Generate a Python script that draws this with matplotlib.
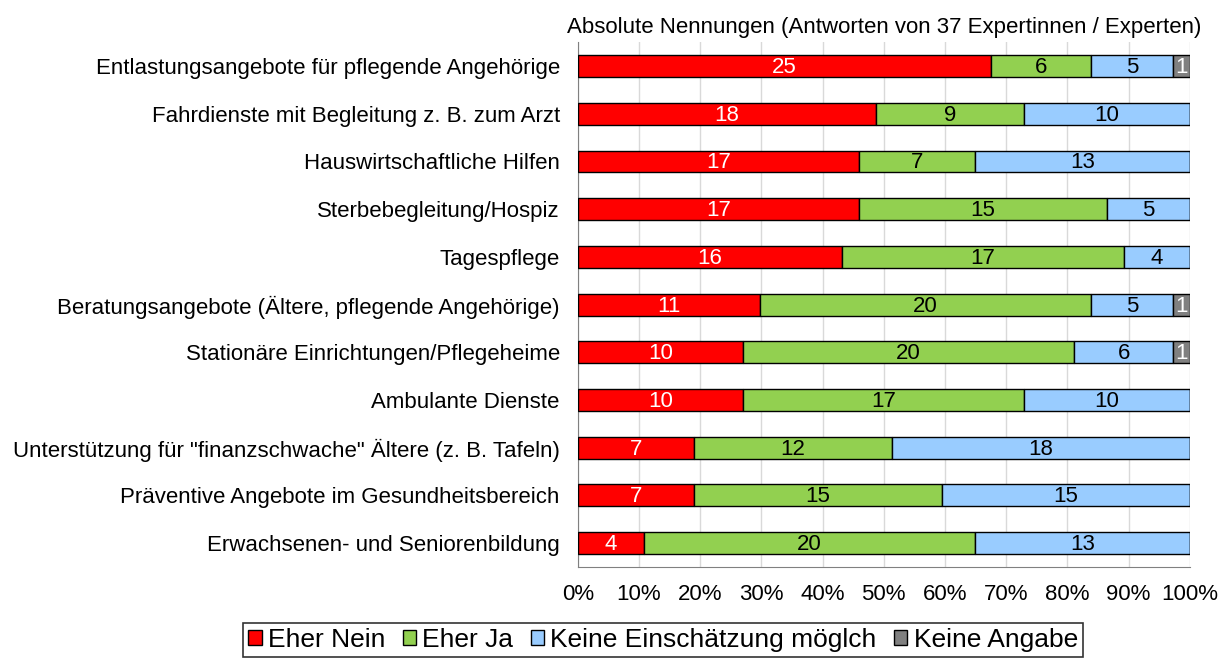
import numpy as np
import matplotlib.pyplot as plt
from matplotlib.patches import Patch

plt.rcParams['font.family'] = ['Liberation Sans', 'DejaVu Sans']

# Daten (absolute Nennungen, 37 Antworten je Angebot)
angebote = [
    "Entlastungsangebote für pflegende Angehörige",
    "Fahrdienste mit Begleitung z. B. zum Arzt",
    "Hauswirtschaftliche Hilfen",
    "Sterbebegleitung/Hospiz",
    "Tagespflege",
    "Beratungsangebote (Ältere, pflegende Angehörige)",
    "Stationäre Einrichtungen/Pflegeheime",
    "Ambulante Dienste",
    "Unterstützung für \"finanzschwache\" Ältere (z. B. Tafeln)",
    "Präventive Angebote im Gesundheitsbereich",
    "Erwachsenen- und Seniorenbildung",
]
eher_nein = [25, 18, 17, 17, 16, 11, 10, 10, 7, 7, 4]
eher_ja = [6, 9, 7, 15, 17, 20, 20, 17, 12, 15, 20]
keine_einsch = [5, 10, 13, 5, 4, 5, 6, 10, 18, 15, 13]
keine_angabe = [1, 0, 0, 0, 0, 1, 1, 0, 0, 0, 0]

reihen = ["Eher Nein", "Eher Ja", "Keine Einschätzung möglch", "Keine Angabe"]
farben = ["#FF0000", "#92D050", "#99CCFF", "#808080"]
textfarben = ["white", "black", "black", "white"]

werte = np.array([eher_nein, eher_ja, keine_einsch, keine_angabe], dtype=float)
gesamt = werte.sum(axis=0)
anteile = werte / gesamt

fig = plt.figure(figsize=(12.19, 6.6), dpi=100)
ax = fig.add_axes([0.474, 0.141, 0.502, 0.795])

y = np.arange(len(angebote))
links = np.zeros(len(angebote))
for i in range(len(reihen)):
    ax.barh(y, anteile[i], left=links, height=0.46, color=farben[i],
            edgecolor="black", linewidth=1, zorder=3)
    for j in range(len(angebote)):
        if werte[i, j] > 0:
            ax.text(links[j] + anteile[i, j] / 2, y[j] + 0.03, str(int(werte[i, j])),
                    ha="center", va="center", fontsize=16,
                    color=textfarben[i], zorder=4)
    links += anteile[i]

ax.set_ylim(len(angebote) - 0.5, -0.5)
ax.set_xlim(0, 1)
ax.set_xticks(np.arange(0, 1.01, 0.1))
ax.set_xticklabels([f"{int(round(t * 100))}%" for t in np.arange(0, 1.01, 0.1)],
                   fontsize=16)
ax.set_yticks(y)
ax.set_yticklabels(angebote, fontsize=16)
ax.tick_params(axis="both", length=0)
ax.tick_params(axis="y", pad=13)
ax.tick_params(axis="x", pad=12)
ax.grid(axis="x", color="#D9D9D9", linewidth=1, zorder=0)
for s in ["top", "right"]:
    ax.spines[s].set_visible(False)
for s in ["left", "bottom"]:
    ax.spines[s].set_color("#808080")

ax.set_title("Absolute Nennungen (Antworten von 37 Expertinnen / Experten)",
             fontsize=16, pad=7)

handles = [Patch(facecolor=farben[i], edgecolor="black", label=reihen[i])
           for i in range(len(reihen))]
leg = fig.legend(handles=handles, loc="lower center", bbox_to_anchor=(0.544, -0.016),
                 ncol=4, fontsize=19, frameon=True, fancybox=False,
                 edgecolor="black", handlelength=0.5, handleheight=0.5,
                 handletextpad=0.25, columnspacing=0.65, borderpad=0.2)
leg.get_frame().set_linewidth(1.2)

fig.savefig("out.png", dpi=100)
